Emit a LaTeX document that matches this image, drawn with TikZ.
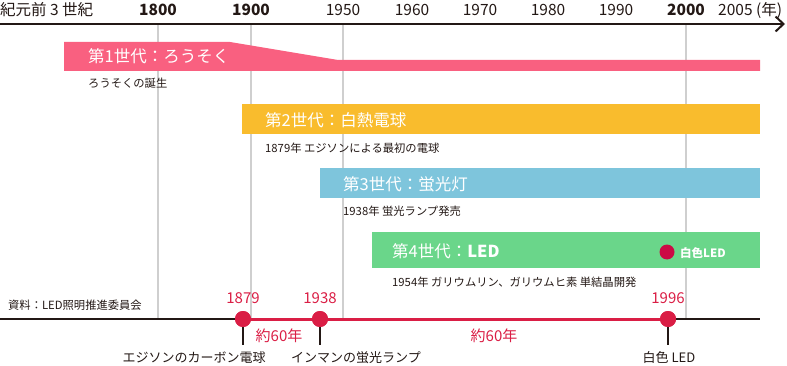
\documentclass[tikz,border=0pt]{standalone}
\usepackage{fontspec}
\setmainfont{Noto Sans CJK JP}
\usetikzlibrary{arrows.meta}
\definecolor{ink}{HTML}{231815}
\definecolor{gridc}{HTML}{CFCFCF}
\definecolor{gpink}{HTML}{F96080}
\definecolor{gyellow}{HTML}{F9BC2D}
\definecolor{gblue}{HTML}{7EC5DC}
\definecolor{ggreen}{HTML}{6AD68A}
\definecolor{tred}{HTML}{DA1E45}
\definecolor{dotred}{HTML}{CC0A45}
\begin{document}
\begin{tikzpicture}[x=1pt,y=-1pt,
  yr/.style={font=\fontsize{15.5}{17}\selectfont, text=ink, inner sep=0pt},
  yrb/.style={yr, font=\fontsize{15.5}{17}\selectfont\bfseries},
  gridline/.style={draw=gridc, line width=1.5pt},
  gentext/.style={font=\fontsize{16.5}{18}\selectfont, text=white, anchor=west, inner sep=0pt},
  subtext/.style={font=\fontsize{11.3}{13}\selectfont, text=ink, anchor=west, inner sep=0pt},
  dotnode/.style={circle, fill=tred, minimum size=16pt, inner sep=0pt},
  redlbl/.style={font=\fontsize{15}{17}\selectfont, text=tred, inner sep=0pt},
  evlbl/.style={font=\fontsize{13}{15}\selectfont, text=ink, inner sep=0pt},
  tick/.style={draw=ink, line width=1.5pt},
  blackline/.style={draw=ink, line width=2.2pt},
  redline/.style={draw=tred, line width=3pt}
]
\useasboundingbox (0,0) rectangle (787,366);

% year labels
\node[yr, anchor=west] (bc) at (0,10) {紀元前 3 世紀};
\node[yrb] (y1800) at (158,10) {1800};
\node[yrb] (y1900) at (251,10) {1900};
\node[yr] (y1950) at (343,10) {1950};
\node[yr] (y1960) at (412,10) {1960};
\node[yr] (y1970) at (480,10) {1970};
\node[yr] (y1980) at (548,10) {1980};
\node[yr] (y1990) at (616,10) {1990};
\node[yrb] (y2000) at (686,10) {2000};
\node[yr, anchor=west] (y2005) at (718,10) {2005 (年)};

% grid lines
\foreach \gx in {158,251,343,686} {
  \draw[gridline] (\gx,24) -- (\gx,318);
}

% axis
\coordinate (axs) at (0,24);
\coordinate (axe) at (785,24);
\draw[ink, line width=2pt, -{Straight Barb[length=8pt,width=15pt,line width=2pt]}] (axs) -- (axe);

% generation 1
\fill[gpink] (64,42) -- (230,42) -- (338,60) -- (760,60) -- (760,71) -- (64,71) -- cycle;
\node[gentext] (g1) at (88,56.5) {第1世代：ろうそく};
\node[subtext] (s1) at (88,83) {ろうそくの誕生};

% generation 2
\fill[gyellow] (242,104) rectangle (760,134);
\node[gentext] (g2) at (265,120) {第2世代：白熱電球};
\node[subtext] (s2) at (265,148) {1879年 エジソンによる最初の電球};

% generation 3
\fill[gblue] (320,168) rectangle (760,198);
\node[gentext] (g3) at (343,184) {第3世代：蛍光灯};
\node[subtext] (s3) at (343,211) {1938年 蛍光ランプ発売};

% generation 4
\fill[ggreen] (372,232) rectangle (760,268);
\node[gentext] (g4) at (392,251) {第4世代：\textbf{LED}};
\node[circle, fill=dotred, minimum size=15pt, inner sep=0pt] (wdot) at (667,252) {};
\node[font=\fontsize{11.5}{13}\selectfont\bfseries, text=white, anchor=west, inner sep=0pt] (wled) at (680,253) {白色LED};
\node[subtext] (s4) at (392,282) {1954年 ガリウムリン、ガリウムヒ素 単結晶開発};

% source
\node[font=\fontsize{11.3}{13}\selectfont, text=ink, anchor=west, inner sep=0pt] (src) at (8,305) {資料：LED照明推進委員会};

% bottom timeline
\coordinate (tls) at (0,319);
\coordinate (tle) at (760,319);
\node[dotnode] (d1879) at (243,319) {};
\node[dotnode] (d1938) at (320,319) {};
\node[dotnode] (d1996) at (668,319) {};
\draw[blackline] (tls) -- (d1879.center);
\draw[blackline] (d1996.center) -- (tle);
\draw[redline] (d1879.center) -- (d1996.center);
\node[dotnode] at (d1879) {};
\node[dotnode] at (d1938) {};
\node[dotnode] at (d1996) {};

\node[redlbl] (l1879) at (243,298) {1879};
\node[redlbl] (l1938) at (320,298) {1938};
\node[redlbl] (l1996) at (668,298) {1996};
\node[redlbl] (p1) at (279,336) {約60年};
\node[redlbl] (p2) at (494,336) {約60年};

% ticks and event labels
\coordinate (t1) at (243,345);
\coordinate (t2) at (320,345);
\coordinate (t3) at (668,345);
\draw[tick] (d1879.south) -- (t1);
\draw[tick] (d1938.south) -- (t2);
\draw[tick] (d1996.south) -- (t3);
\node[evlbl] (e1) at (194,358) {エジソンのカーボン電球};
\node[evlbl] (e2) at (356,358) {インマンの蛍光ランプ};
\node[evlbl] (e3) at (669,358) {白色 LED};
\end{tikzpicture}
\end{document}
